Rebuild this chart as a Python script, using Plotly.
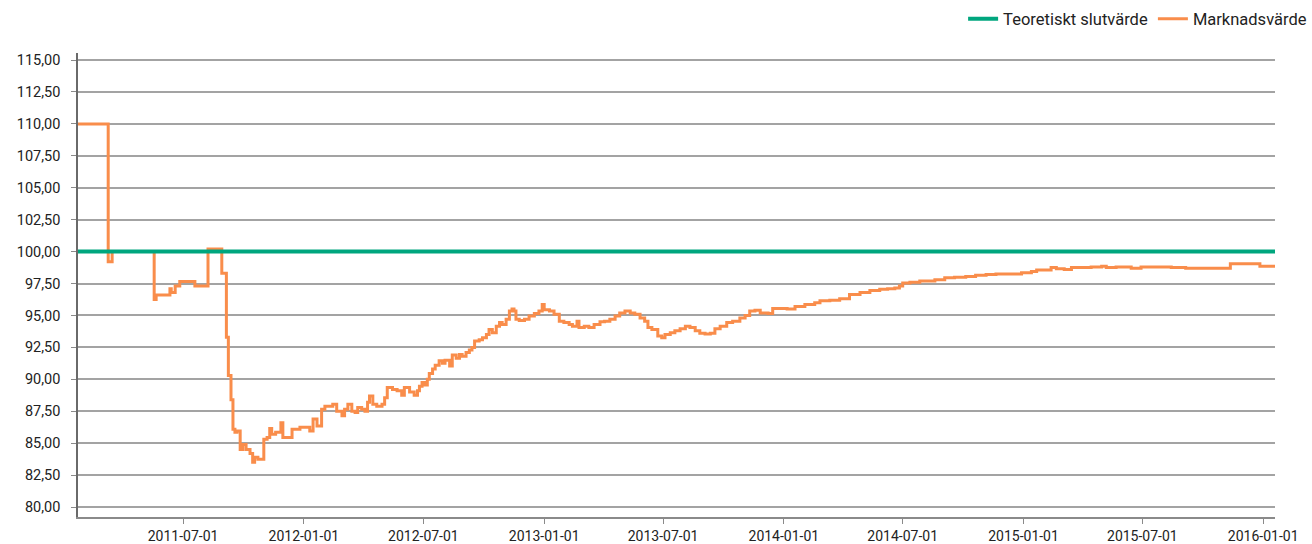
import plotly.graph_objects as go

# ---- data ----
market_dates = [
    "2011-01-22", "2011-03-09", "2011-03-15", "2011-05-18", "2011-05-21", "2011-06-11",
    "2011-06-13", "2011-06-19", "2011-06-26", "2011-07-19", "2011-08-08", "2011-08-29",
    "2011-09-05", "2011-09-08", "2011-09-12", "2011-09-15", "2011-09-18", "2011-09-21",
    "2011-09-26", "2011-09-30", "2011-10-05", "2011-10-11", "2011-10-15", "2011-10-18",
    "2011-10-23", "2011-11-01", "2011-11-06", "2011-11-10", "2011-11-13", "2011-11-19",
    "2011-11-27", "2011-11-30", "2011-12-14", "2011-12-26", "2012-01-10", "2012-01-15",
    "2012-01-21", "2012-01-28", "2012-02-02", "2012-02-14", "2012-02-20", "2012-02-28",
    "2012-03-03", "2012-03-08", "2012-03-14", "2012-03-19", "2012-03-23", "2012-03-29",
    "2012-04-03", "2012-04-07", "2012-04-10", "2012-04-15", "2012-04-21", "2012-04-29",
    "2012-05-03", "2012-05-07", "2012-05-15", "2012-05-22", "2012-05-29", "2012-06-02",
    "2012-06-10", "2012-06-17", "2012-06-22", "2012-06-25", "2012-06-29", "2012-07-03",
    "2012-07-07", "2012-07-10", "2012-07-15", "2012-07-19", "2012-07-25", "2012-07-30",
    "2012-08-03", "2012-08-10", "2012-08-14", "2012-08-20", "2012-08-25", "2012-08-29",
    "2012-09-04", "2012-09-09", "2012-09-13", "2012-09-17", "2012-09-24", "2012-09-29",
    "2012-10-05", "2012-10-09", "2012-10-14", "2012-10-20", "2012-10-25", "2012-10-29",
    "2012-11-04", "2012-11-09", "2012-11-13", "2012-11-16", "2012-11-19", "2012-11-24",
    "2012-12-02", "2012-12-09", "2012-12-17", "2012-12-24", "2012-12-29", "2013-01-01",
    "2013-01-09", "2013-01-16", "2013-01-24", "2013-01-31", "2013-02-08", "2013-02-13",
    "2013-02-20", "2013-02-23", "2013-03-03", "2013-03-10", "2013-03-18", "2013-03-27",
    "2013-04-03", "2013-04-11", "2013-04-19", "2013-04-26", "2013-05-04", "2013-05-12",
    "2013-05-19", "2013-05-27", "2013-06-03", "2013-06-08", "2013-06-14", "2013-06-23",
    "2013-06-29", "2013-07-04", "2013-07-12", "2013-07-19", "2013-07-27", "2013-08-04",
    "2013-08-11", "2013-08-19", "2013-08-26", "2013-09-03", "2013-09-11", "2013-09-18",
    "2013-09-26", "2013-10-06", "2013-10-15", "2013-10-26", "2013-11-03", "2013-11-10",
    "2013-11-18", "2013-11-26", "2013-12-08", "2013-12-15", "2014-01-06", "2014-01-18",
    "2014-02-02", "2014-02-17", "2014-02-25", "2014-03-12", "2014-03-27", "2014-04-11",
    "2014-04-27", "2014-05-12", "2014-05-27", "2014-06-08", "2014-06-19", "2014-06-26",
    "2014-07-01", "2014-07-12", "2014-07-27", "2014-08-19", "2014-09-03", "2014-09-18",
    "2014-10-05", "2014-10-20", "2014-11-05", "2014-11-20", "2014-12-29", "2015-01-13",
    "2015-01-21", "2015-02-12", "2015-02-20", "2015-03-04", "2015-03-15", "2015-04-14",
    "2015-04-30", "2015-05-07", "2015-05-22", "2015-06-14", "2015-06-29", "2015-08-14",
    "2015-09-05", "2015-11-12", "2015-12-27", "2016-01-19",
]
market_values = [
    110.0, 99.2, 100.0, 96.25, 96.6, 97.1,
    96.8, 97.3, 97.65, 97.3, 100.2, 98.3,
    93.3, 90.3, 88.4, 86.1, 85.85, 85.95,
    84.5, 84.9, 84.5, 84.2, 83.5, 83.9,
    83.75, 85.3, 85.45, 86.15, 85.7, 85.85,
    86.6, 85.45, 86.1, 86.25, 85.95, 86.9,
    86.35, 87.65, 87.9, 88.05, 87.5, 87.15,
    87.65, 88.05, 87.5, 87.4, 87.8, 87.65,
    87.5, 88.2, 88.7, 88.05, 87.9, 88.05,
    88.55, 89.35, 89.2, 89.1, 88.75, 89.35,
    89.0, 88.75, 89.1, 89.45, 89.75, 89.55,
    90.0, 90.45, 90.8, 91.1, 91.45, 91.25,
    91.5, 91.05, 91.9, 91.65, 91.95, 91.8,
    92.1, 92.3, 92.5, 93.0, 93.1, 93.25,
    93.5, 93.9, 93.65, 94.15, 94.45, 94.3,
    94.7, 95.35, 95.5, 95.35, 94.7, 94.6,
    94.7, 94.95, 95.15, 95.35, 95.85, 95.45,
    95.35, 95.1, 94.55, 94.45, 94.3, 94.15,
    94.55, 94.05, 94.15, 94.05, 94.3, 94.5,
    94.55, 94.7, 94.95, 95.2, 95.35, 95.2,
    95.1, 94.8, 94.55, 94.05, 93.9, 93.4,
    93.25, 93.5, 93.65, 93.8, 93.95, 94.15,
    94.05, 93.8, 93.6, 93.55, 93.6, 93.95,
    94.15, 94.45, 94.55, 94.8, 95.0, 95.35,
    95.4, 95.2, 95.15, 95.55, 95.5, 95.7,
    95.85, 96.0, 96.15, 96.2, 96.3, 96.65,
    96.8, 96.95, 97.05, 97.1, 97.15, 97.3,
    97.55, 97.6, 97.7, 97.8, 97.95, 98.0,
    98.05, 98.15, 98.2, 98.25, 98.35, 98.45,
    98.55, 98.75, 98.65, 98.6, 98.75, 98.8,
    98.85, 98.75, 98.8, 98.7, 98.8, 98.75,
    98.7, 99.05, 98.85, 98.85,
]
theoretical_dates = ["2011-01-22", "2016-01-19"]
theoretical_values = [100.0, 100.0]

y_ticks = [80 + 2.5 * i for i in range(15)]
x_ticks = ["2011-07-01", "2012-01-01", "2012-07-01", "2013-01-01", "2013-07-01",
           "2014-01-01", "2014-07-01", "2015-01-01", "2015-07-01", "2016-01-01"]

GREEN = "#00A67E"
ORANGE = "#F98D4B"
FONT = "Roboto"
TEXT = "#222222"

fig = go.Figure()
fig.add_trace(go.Scatter(
    x=market_dates, y=market_values, name="Marknadsvärde", mode="lines",
    line=dict(color=ORANGE, width=3, shape="hv"), legendrank=2,
))
fig.add_trace(go.Scatter(
    x=theoretical_dates, y=theoretical_values, name="Teoretiskt slutvärde", mode="lines",
    line=dict(color=GREEN, width=4), legendrank=1,
))

fig.update_layout(
    width=1312, height=544, autosize=False,
    margin=dict(l=78, r=37, t=53, b=27, autoexpand=False),
    plot_bgcolor="white", paper_bgcolor="white",
    separators=", ",
    font=dict(family=FONT, size=14, color=TEXT),
    showlegend=True,
    legend=dict(orientation="h", x=1.031, xanchor="right", y=1.073, yanchor="middle",
                font=dict(family=FONT, size=16.5, color=TEXT), bgcolor="rgba(0,0,0,0)",
                itemwidth=30, traceorder="normal"),
)
fig.update_xaxes(
    type="date", range=["2011-01-22", "2016-01-19"], automargin=False,
    tickvals=x_ticks, tickformat="%Y-%m-%d",
    showgrid=False, zeroline=False,
    showline=True, linecolor="#8a8a8a", linewidth=1.5,
    ticks="outside", ticklen=5, tickcolor="#8a8a8a", tickwidth=1,
    ticklabelstandoff=0,
    tickfont=dict(family=FONT, size=14, color=TEXT),
)
fig.update_yaxes(
    range=[79.22, 115.55], tickvals=y_ticks, tickformat=".2f", automargin=False,
    showgrid=True, gridcolor="#a3a3a3", gridwidth=1.5, zeroline=False,
    showline=True, linecolor="#6a6a6a", linewidth=1.5,
    ticks="outside", ticklen=5, tickcolor="#8a8a8a", tickwidth=1,
    ticklabelstandoff=8,
    tickfont=dict(family=FONT, size=14.5, color=TEXT),
)

fig.write_html("out.html", config={"displayModeBar": False},
               post_script="document.body.style.margin='0';")
